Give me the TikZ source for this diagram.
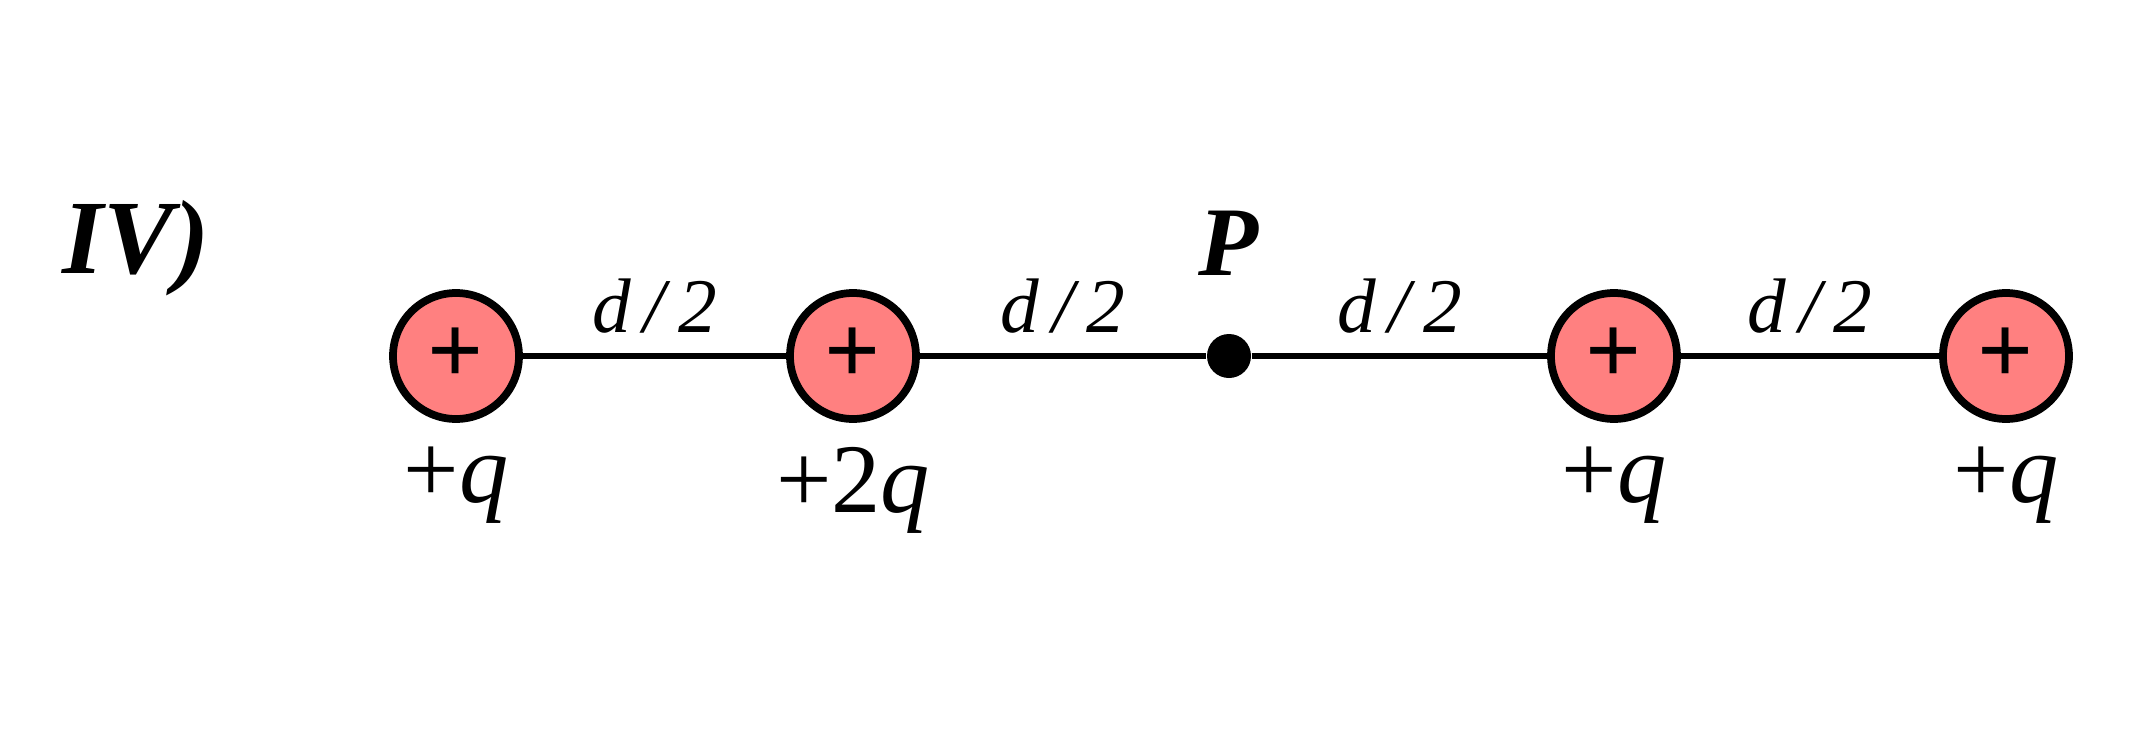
\documentclass[tikz,border=0pt]{standalone}
\usepackage{fontspec}
\setmainfont{Liberation Serif}
\usetikzlibrary{positioning}
\tikzset{
  charge/.style={circle, draw, line width=2.2pt, fill=red!50!white, minimum size=1.26cm, inner sep=0pt,
    font=\fontsize{28}{28}\selectfont\bfseries},
  qlabel/.style={font=\fontsize{28}{28}\selectfont},
  dlabel/.style={font=\fontsize{22}{22}\selectfont\itshape, above=0.08cm},
}
\begin{document}
\begin{tikzpicture}
  \useasboundingbox (0,0) rectangle (21.32,7.38);
  % charges along the line
  \node[charge] (c1) at (4.56,3.82) {+};
  \node[charge] (c2) at (8.53,3.82) {+};
  \node[charge] (c3) at (16.14,3.82) {+};
  \node[charge] (c4) at (20.06,3.82) {+};
  \node[circle, fill, minimum size=0.44cm, inner sep=0pt] (P) at (12.29,3.82) {};
  \draw[line width=1.8pt] (c1) -- node[dlabel]{d\,/\,2} (c2);
  \draw[line width=1.8pt] (c2) -- node[dlabel]{d\,/\,2} (P);
  \draw[line width=1.8pt] (P) -- node[dlabel]{d\,/\,2} (c3);
  \draw[line width=1.8pt] (c3) -- node[dlabel]{d\,/\,2} (c4);
  \node[font=\fontsize{28}{28}\selectfont\bfseries\itshape] (Plab) at (12.29,4.95) {P};
  \node[font=\fontsize{30}{30}\selectfont\bfseries\itshape] (title) at (1.36,4.9) {IV)};
  % charge values
  \node[qlabel, below=0.12cm of c1] (q1) {+\textit{q}};
  \node[qlabel, below=0.12cm of c2] (q2) {+2\textit{q}};
  \node[qlabel, below=0.12cm of c3] (q3) {+\textit{q}};
  \node[qlabel, below=0.12cm of c4] (q4) {+\textit{q}};
\end{tikzpicture}
\end{document}
